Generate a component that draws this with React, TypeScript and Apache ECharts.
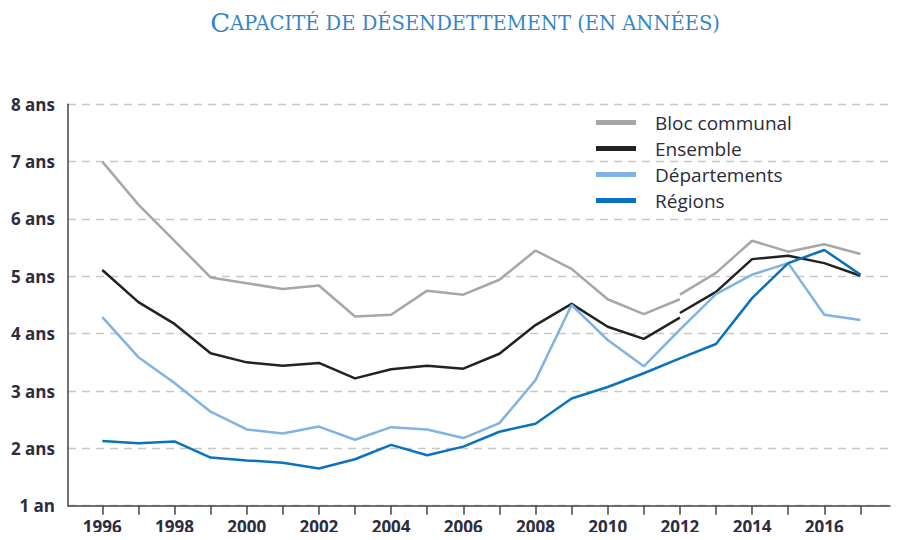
import React, { useEffect, useRef } from "react";
import * as echarts from "echarts";

const years = [1996, 1997, 1998, 1999, 2000, 2001, 2002, 2003, 2004, 2005, 2006, 2007, 2008, 2009, 2010, 2011, 2012, 2013, 2014, 2015, 2016, 2017];

const blocOld = [7.0, 6.25, 5.62, 4.98, 4.88, 4.78, 4.84, 4.3, 4.33, 4.75, 4.68, 4.94, 5.45, 5.13, 4.6, 4.34, 4.6];
const blocNew = [4.68, 5.06, 5.62, 5.43, 5.56, 5.39];
const ensembleOld = [5.11, 4.55, 4.17, 3.66, 3.5, 3.44, 3.49, 3.22, 3.38, 3.44, 3.39, 3.65, 4.15, 4.52, 4.12, 3.91, 4.28];
const ensembleNew = [4.36, 4.73, 5.3, 5.36, 5.23, 5.01];
const departements = [4.29, 3.59, 3.14, 2.64, 2.33, 2.26, 2.38, 2.15, 2.37, 2.33, 2.18, 2.44, 3.19, 4.5, 3.89, 3.43, 4.07, 4.69, 5.03, 5.23, 4.33, 4.24];
const regions = [2.13, 2.09, 2.12, 1.84, 1.79, 1.75, 1.65, 1.81, 2.06, 1.88, 2.03, 2.29, 2.43, 2.87, 3.07, 3.31, 3.57, 3.82, 4.62, 5.23, 5.46, 5.03];

const yTicks = [1, 2, 3, 4, 5, 6, 7, 8];
const xLabelYears = [1996, 1998, 2000, 2002, 2004, 2006, 2008, 2010, 2012, 2014, 2016];

const names = ["Bloc communal", "Ensemble", "Départements", "Régions"];
const colors = { bloc: "#a7a7a7", ens: "#222222", dep: "#80b3e3", reg: "#0b72bf" };

function pairs(xs: number[], ys: number[]) {
  return ys.map((v, i) => [xs[i], v]);
}

export default function App() {
  const ref = useRef<HTMLDivElement>(null);
  useEffect(() => {
    if (!ref.current) return;
    const chart = echarts.init(ref.current, undefined, { renderer: "svg" });
    const lineBase = { type: "line", showSymbol: false, symbol: "none", smooth: false, z: 3 };
    const labelFont = { fontFamily: "Open Sans", fontWeight: "bold", fontSize: 17, color: "#2d2d3f" };
    chart.setOption({
      animation: false,
      backgroundColor: "#ffffff",
      title: {
        left: 460,
        textAlign: "center",
        top: 5,
        text: "{a|C}{b|APACITÉ DE DÉSENDETTEMENT (EN ANNÉES)}",
        textStyle: {
          fontWeight: "normal",
          rich: {
            a: { fontFamily: "DejaVu Serif", fontWeight: "normal", fontSize: 26, color: "#3584cb" },
            b: { fontFamily: "DejaVu Serif", fontWeight: "normal", fontSize: 19.5, color: "#3584cb" },
          },
        },
      },
      legend: {
        orient: "vertical",
        left: 596,
        top: 113,
        padding: 0,
        data: names,
        icon: "rect",
        itemWidth: 40,
        itemHeight: 5,
        itemGap: 7,
        textStyle: { fontFamily: "Open Sans", fontSize: 19, color: "#2b2b3a", padding: [0, 0, 0, 14] },
      },
      grid: { left: 68, right: 9, top: 104.3, bottom: 34.3, containLabel: false },
      xAxis: {
        type: "value",
        min: 1995.05,
        max: 2017.82,
        splitLine: { show: false },
        axisLine: { show: true, lineStyle: { color: "#444", width: 1.5 } },
        axisTick: { show: true, length: 9, lineStyle: { color: "#444", width: 1.5 }, customValues: years },
        axisLabel: { ...labelFont, margin: 12, customValues: xLabelYears, formatter: (v: number) => String(v) },
      },
      yAxis: {
        type: "value",
        min: 1,
        max: 8,
        interval: 1,
        axisLine: { show: true, lineStyle: { color: "#444", width: 1.5 } },
        axisTick: { show: false },
        splitLine: { show: true, lineStyle: { color: "#c8c8c8", type: [8, 6], width: 1.3 } },
        axisLabel: {
          ...labelFont,
          margin: 13,
          customValues: yTicks,
          formatter: (v: number) => (v === 1 ? "1 an" : v + " ans"),
        },
      },
      series: [
        { ...lineBase, name: names[0], data: pairs(years, blocOld), lineStyle: { color: colors.bloc, width: 2.5 }, itemStyle: { color: colors.bloc } },
        { ...lineBase, name: names[0], data: pairs(years.slice(16), blocNew), lineStyle: { color: colors.bloc, width: 2.5 }, itemStyle: { color: colors.bloc } },
        { ...lineBase, name: names[1], data: pairs(years, ensembleOld), lineStyle: { color: colors.ens, width: 2.5 }, itemStyle: { color: colors.ens } },
        { ...lineBase, name: names[1], data: pairs(years.slice(16), ensembleNew), lineStyle: { color: colors.ens, width: 2.5 }, itemStyle: { color: colors.ens } },
        { ...lineBase, name: names[2], data: pairs(years, departements), lineStyle: { color: colors.dep, width: 2.5 }, itemStyle: { color: colors.dep } },
        { ...lineBase, name: names[3], data: pairs(years, regions), lineStyle: { color: colors.reg, width: 2.5 }, itemStyle: { color: colors.reg } },
      ],
    });
    return () => chart.dispose();
  }, []);
  return <div ref={ref} style={{ width: 899, height: 540, margin: -8 }} />;
}
